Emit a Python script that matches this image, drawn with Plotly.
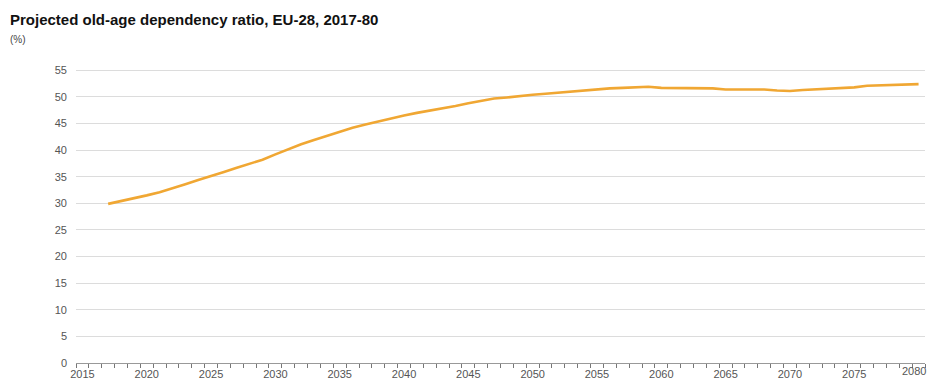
import plotly.graph_objects as go

# Old-age dependency ratio projections (%), EU-28
years = list(range(2017, 2081))
ratio = [
    29.9, 30.4, 30.9, 31.5, 32.1, 32.8, 33.6, 34.4, 35.1, 35.9,   # 2017-2026
    36.7, 37.5, 38.2, 39.2, 40.2, 41.1, 41.9, 42.7, 43.5, 44.2,   # 2027-2036
    44.8, 45.4, 46.0, 46.5, 47.0, 47.4, 47.8, 48.3, 48.8, 49.3,   # 2037-2046
    49.7, 49.9, 50.2, 50.4, 50.6, 50.8, 51.0, 51.2, 51.5, 51.6,   # 2047-2056
    51.7, 51.8, 51.9, 51.7, 51.7, 51.7, 51.7, 51.6, 51.4, 51.4,   # 2057-2066
    51.4, 51.4, 51.2, 51.1, 51.3, 51.4, 51.5, 51.7, 51.8, 52.1,   # 2067-2076
    52.2, 52.2, 52.3, 52.4,                                       # 2077-2080
]
x_ticks = list(range(2015, 2081, 5))
y_ticks = list(range(0, 56, 5))

title = "Projected old-age dependency ratio, EU-28, 2017-80"
unit = "(%)"

ML, MR, MT, MB = 76, 3, 65, 17
W, H = 928, 380
plot_w = W - ML - MR
plot_h = H - MT - MB


def px_x(x):
    return (x - ML) / plot_w


def px_y(y):
    return (H - MB - y) / plot_h


fig = go.Figure()
fig.add_trace(go.Scatter(
    x=years, y=ratio, mode="lines",
    line=dict(color="#F0A733", width=2.6),
    hoverinfo="x+y", showlegend=False,
))

# The last year label sits against the right edge, so it is right-aligned there
last_tick = x_ticks[-1]
annotations = [
    dict(text="<b>" + title + "</b>", x=px_x(8), y=px_y(20), xref="paper", yref="paper",
         showarrow=False, xanchor="left", yanchor="middle",
         font=dict(size=15, color="#111")),
    dict(text=unit, x=px_x(8), y=px_y(39), xref="paper", yref="paper",
         showarrow=False, xanchor="left", yanchor="middle",
         font=dict(size=10, color="#444")),
    dict(text=str(last_tick), x=px_x(W - 1), y=px_y(371), xref="paper", yref="paper",
         showarrow=False, xanchor="right", yanchor="middle", borderpad=0,
         font=dict(size=11, color="#555")),
]

fig.update_layout(
    width=W, height=H,
    margin=dict(l=ML, r=MR, t=MT, b=MB),
    paper_bgcolor="white", plot_bgcolor="white",
    font=dict(family="Liberation Sans, Arial, sans-serif", size=11, color="#555"),
    xaxis=dict(
        range=[2014.5, 2080.5], automargin=False,
        tickvals=x_ticks[:-1], ticks="", showgrid=False,
        showline=True, linecolor="#999999", linewidth=1,
        tickfont=dict(size=11, color="#555"), ticklabelstandoff=1,
        minor=dict(ticks="outside", tick0=2014.5, dtick=1, ticklen=4,
                   tickcolor="#777777", showgrid=False),
        zeroline=False, fixedrange=True,
    ),
    yaxis=dict(
        range=[0, 56], tickvals=y_ticks, automargin=False,
        showgrid=True, gridcolor="#DCDCDC", gridwidth=1,
        zeroline=False, ticks="", ticklabelstandoff=8,
        tickfont=dict(size=11, color="#555"), fixedrange=True,
    ),
    annotations=annotations,
)

fig.write_html("out.html")
